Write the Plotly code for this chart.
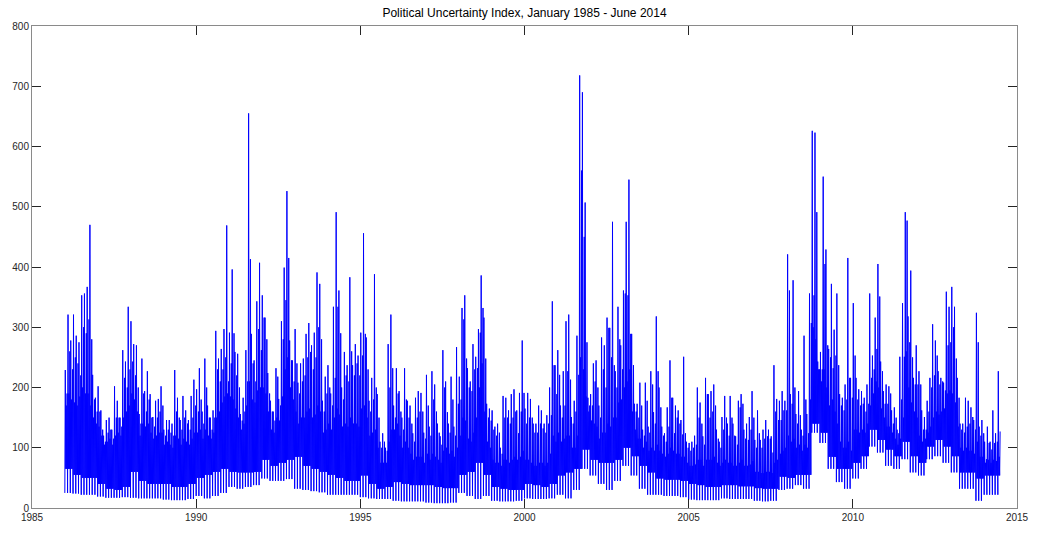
import plotly.graph_objects as go

# Political uncertainty index, daily series summarised month by month
# (January 1986 - June 2014).
start_year = 1986

# Highest daily reading in each month
monthly_peak = [
    229, 321, 278, 321, 286, 275, 353, 356, 367, 470, 221, 183,   # 1986
    202, 162, 120, 146, 150, 130, 202, 178, 150, 262, 243, 334,   # 1987
    310, 272, 270, 156, 248, 194, 227, 189, 151, 178, 181, 202,   # 1988
    130, 146, 146, 140, 229, 183, 146, 186, 162, 146, 186, 213,   # 1989
    197, 232, 160, 248, 170, 150, 162, 294, 248, 264, 297, 469,   # 1990
    291, 396, 259, 256, 156, 183, 262, 655, 289, 245, 343, 407,   # 1991
    353, 316, 224, 178, 160, 232, 181, 310, 399, 526, 278, 245,   # 1992
    297, 208, 240, 248, 289, 307, 270, 291, 391, 372, 178, 218,   # 1993
    237, 190, 334, 491, 361, 200, 259, 237, 383, 237, 272, 253,   # 1994
    291, 456, 283, 178, 216, 388, 189, 110, 124, 100, 272, 321,   # 1995
    170, 232, 194, 150, 232, 178, 170, 124, 183, 194, 191, 125,   # 1996
    221, 135, 227, 205, 140, 119, 262, 210, 140, 218, 135, 267,   # 1997
    218, 332, 353, 232, 210, 272, 251, 297, 386, 316, 173, 165,   # 1998
    162, 135, 140, 100, 186, 183, 162, 189, 197, 162, 191, 278,   # 1999
    165, 191, 181, 140, 140, 170, 162, 140, 154, 200, 343, 237,   # 2000
    262, 170, 227, 310, 321, 151, 178, 286, 718, 690, 507, 183,   # 2001
    189, 240, 245, 170, 283, 270, 316, 299, 475, 227, 334, 270,   # 2002
    361, 475, 545, 289, 173, 173, 208, 130, 208, 135, 227, 159,   # 2003
    318, 200, 135, 124, 167, 245, 183, 170, 162, 146, 251, 110,   # 2004
    108, 110, 120, 200, 175, 119, 216, 189, 194, 205, 130, 110,   # 2005
    151, 186, 140, 186, 140, 119, 178, 189, 130, 140, 151, 194,   # 2006
    113, 162, 113, 130, 146, 130, 119, 237, 181, 178, 194, 178,   # 2007
    421, 189, 378, 156, 194, 130, 286, 156, 356, 626, 623, 243,   # 2008
    259, 550, 429, 264, 372, 296, 356, 189, 183, 205, 415, 216,   # 2009
    340, 216, 197, 194, 183, 205, 356, 253, 316, 405, 243, 194,   # 2010
    205, 202, 162, 167, 130, 251, 340, 491, 318, 394, 216, 270,   # 2011
    227, 162, 151, 178, 216, 305, 278, 227, 216, 208, 359, 334,   # 2012
    367, 334, 216, 140, 140, 183, 178, 167, 146, 324, 135, 146,   # 2013
    110, 135, 110, 162, 124, 227,                                 # 2014
]

# Second-highest daily spike in each month
monthly_second = [
    190, 260, 230, 250, 240, 220, 300, 290, 313, 280, 180, 160,   # 1986
    160, 130, 110, 125, 130, 115, 150, 150, 135, 216, 200, 230,   # 1987
    243, 220, 200, 140, 190, 160, 180, 150, 135, 150, 160, 170,   # 1988
    120, 130, 125, 120, 160, 150, 130, 150, 140, 130, 150, 170,   # 1989
    160, 180, 140, 200, 150, 130, 150, 230, 210, 230, 250, 210,   # 1990
    240, 290, 220, 200, 145, 160, 210, 413, 240, 210, 297, 262,   # 1991
    316, 280, 190, 160, 145, 218, 170, 280, 345, 415, 245, 210,   # 1992
    240, 190, 210, 220, 250, 259, 230, 250, 300, 280, 160, 190,   # 1993
    200, 170, 216, 334, 290, 180, 220, 210, 260, 220, 240, 220,   # 1994
    253, 289, 230, 160, 180, 200, 150, 100, 110, 95, 200, 232,    # 1995
    150, 190, 160, 130, 180, 150, 140, 110, 150, 160, 160, 115,   # 1996
    170, 120, 180, 160, 125, 105, 200, 159, 125, 180, 120, 173,   # 1997
    180, 313, 248, 200, 194, 230, 232, 291, 332, 248, 150, 145,   # 1998
    130, 120, 125, 90, 150, 150, 140, 150, 160, 124, 160, 191,    # 1999
    140, 150, 150, 125, 125, 140, 132, 125, 140, 154, 237, 189,   # 2000
    221, 150, 170, 227, 213, 140, 160, 221, 560, 450, 275, 170,   # 2001
    170, 210, 200, 150, 230, 200, 299, 250, 237, 200, 280, 230,   # 2002
    356, 353, 289, 237, 160, 150, 170, 120, 178, 125, 205, 140,   # 2003
    227, 167, 120, 110, 135, 183, 124, 150, 140, 122, 124, 100,   # 2004
    95, 100, 105, 150, 140, 105, 189, 150, 160, 170, 115, 100,    # 2005
    130, 150, 120, 150, 120, 105, 167, 173, 115, 113, 130, 150,   # 2006
    100, 124, 100, 115, 119, 115, 92, 160, 146, 146, 162, 162,    # 2007
    361, 173, 200, 140, 154, 120, 180, 124, 307, 353, 491, 230,   # 2008
    230, 405, 270, 250, 232, 253, 237, 170, 162, 180, 216, 183,   # 2009
    253, 180, 170, 173, 160, 173, 216, 230, 264, 351, 227, 173,   # 2010
    173, 190, 140, 150, 124, 180, 251, 477, 275, 250, 205, 205,   # 2011
    205, 130, 130, 160, 200, 220, 253, 205, 210, 195, 270, 275,   # 2012
    300, 248, 183, 130, 125, 135, 140, 151, 130, 275, 120, 124,   # 2013
    81, 108, 97, 108, 110, 127,                                   # 2014
]

# Upper edge of the dense bulk of daily readings in each month
monthly_top = [
    170, 190, 180, 175, 170, 185, 200, 190, 190, 170, 150, 140,   # 1986
    135, 120, 105, 110, 115, 105, 120, 125, 120, 150, 160, 170,   # 1987
    190, 180, 160, 120, 140, 135, 140, 125, 115, 120, 125, 125,   # 1988
    105, 110, 105, 100, 120, 115, 105, 115, 110, 105, 115, 125,   # 1989
    125, 130, 115, 130, 120, 115, 125, 150, 160, 175, 185, 190,   # 1990
    185, 180, 165, 150, 130, 140, 170, 210, 180, 175, 195, 200,   # 1991
    200, 190, 160, 130, 125, 150, 145, 185, 230, 250, 200, 180,   # 1992
    160, 140, 150, 150, 160, 165, 150, 155, 170, 160, 125, 130,   # 1993
    140, 130, 150, 165, 155, 135, 140, 135, 150, 140, 140, 135,   # 1994
    165, 170, 150, 120, 125, 130, 100, 75, 75, 75, 110, 130,      # 1995
    130, 140, 120, 100, 110, 100, 90, 80, 85, 85, 85, 75,         # 1996
    90, 80, 90, 85, 80, 75, 95, 100, 90, 95, 85, 100,             # 1997
    120, 150, 145, 115, 110, 125, 150, 200, 240, 160, 110, 100,   # 1998
    80, 75, 75, 70, 80, 80, 75, 80, 85, 80, 85, 95,               # 1999
    80, 80, 75, 70, 70, 75, 75, 70, 75, 90, 120, 110,             # 2000
    125, 110, 115, 120, 120, 100, 100, 120, 250, 230, 185, 160,   # 2001
    145, 140, 135, 115, 125, 125, 140, 135, 150, 150, 175, 180,   # 2002
    200, 210, 230, 160, 130, 115, 115, 100, 110, 95, 100, 95,     # 2003
    105, 95, 90, 85, 90, 100, 95, 90, 90, 85, 85, 75,             # 2004
    70, 70, 72, 80, 80, 70, 80, 80, 80, 85, 75, 70,               # 2005
    75, 80, 75, 75, 70, 70, 75, 80, 70, 70, 72, 78,               # 2006
    60, 60, 58, 58, 60, 60, 58, 75, 80, 90, 95, 100,              # 2007
    120, 110, 115, 100, 105, 95, 105, 100, 180, 300, 280, 230,    # 2008
    210, 230, 200, 170, 180, 160, 140, 110, 100, 100, 110, 95,    # 2009
    130, 130, 125, 130, 125, 140, 170, 190, 210, 200, 165, 150,   # 2010
    135, 135, 125, 115, 105, 115, 150, 260, 200, 175, 160, 150,   # 2011
    120, 110, 115, 125, 135, 150, 160, 155, 160, 165, 190, 195,   # 2012
    190, 175, 135, 100, 95, 100, 95, 95, 90, 110, 85, 85,         # 2013
    75, 80, 75, 80, 78, 85,                                       # 2014
]

# Lowest daily readings in each quarter
quarterly_floor = [
    25, 24, 22, 22,    19, 17, 17, 18,    17, 16, 16, 16,    14, 13, 13, 15,
    20, 16, 20, 25,    35, 32, 35, 38,    49, 45, 45, 48,    32, 30, 28, 26,
    22, 22, 22, 22,    18, 16, 15, 15,    12, 11, 11, 11,    9, 8, 8, 9,
    25, 20, 15, 20,    12, 11, 11, 12,    16, 15, 15, 16,    22, 16, 30, 65,
    54, 40, 30, 45,    70, 54, 32, 22,    22, 20, 20, 18,    14, 13, 13, 13,
    16, 15, 15, 15,    12, 11, 12, 30,    32, 38, 32, 125,   108, 65, 43, 32,
    49, 65, 102, 92,   70, 65, 81, 59,    54, 81, 86, 75,    59, 32, 32, 12,
    22, 22,
]

# Lower edge of the dense bulk of daily readings in each quarter
quarterly_core_low = [
    65, 55, 50, 50,    40, 32, 30, 35,    60, 45, 40, 40,    40, 35, 35, 40,
    50, 55, 60, 65,    60, 59, 59, 60,    80, 70, 75, 80,    85, 70, 65, 60,
    55, 50, 45, 45,    54, 40, 32, 35,    43, 40, 38, 38,    38, 35, 33, 33,
    55, 60, 75, 55,    35, 32, 30, 30,    40, 38, 35, 40,    54, 59, 65, 97,
    80, 75, 75, 80,    100, 86, 70, 59,   49, 47, 47, 45,    40, 38, 35, 35,
    38, 38, 36, 36,    33, 32, 32, 52,    50, 55, 55, 140,   125, 85, 65, 65,
    75, 86, 130, 113,  97, 86, 110, 86,   75, 102, 113, 102, 86, 59, 59, 49,
    54, 54,
]

x_ticks = [1985, 1990, 1995, 2000, 2005, 2010, 2015]
y_ticks = [0, 100, 200, 300, 400, 500, 600, 700, 800]

# Each month is traced as a run of daily swings between its readings.
xs, ys = [], []
for m, peak in enumerate(monthly_peak):
    q = m // 3
    floor, core_low = quarterly_floor[q], quarterly_core_low[q]
    readings = (floor, peak, core_low, monthly_top[m], core_low, monthly_second[m])
    t0 = start_year + m / 12
    for k, v in enumerate(readings):
        xs.append(t0 + k / (12 * len(readings)))
        ys.append(v)

fig = go.Figure(
    go.Scatter(
        x=xs, y=ys, mode="lines",
        line=dict(color="#0000ff", width=1),
        hoverinfo="skip", showlegend=False,
    )
)

axis_common = dict(
    showline=True, linecolor="#8a8a8a", linewidth=1, mirror="ticks",
    ticks="inside", ticklen=9, tickwidth=1, tickcolor="#262626",
    showgrid=False, zeroline=False,
    tickfont=dict(family="Liberation Sans, Arial, sans-serif", size=10, color="#262626"),
)

fig.update_layout(
    width=1041, height=535,
    margin=dict(l=27, r=12, t=26, b=15),
    paper_bgcolor="white", plot_bgcolor="white",
    title=dict(
        text="Political Uncertainty Index, January 1985 - June 2014",
        x=0.5, xref="paper", y=1 - 13 / 535, yref="container",
        xanchor="center", yanchor="middle",
        font=dict(family="Liberation Sans, Arial, sans-serif", size=12, color="#000000"),
    ),
    xaxis=dict(range=[1985, 2015], tickvals=x_ticks,
               ticktext=[str(v) for v in x_ticks], **axis_common),
    yaxis=dict(range=[0, 800], tickvals=y_ticks,
               ticktext=[str(v) for v in y_ticks], **axis_common),
)

fig.write_html("out.html")
